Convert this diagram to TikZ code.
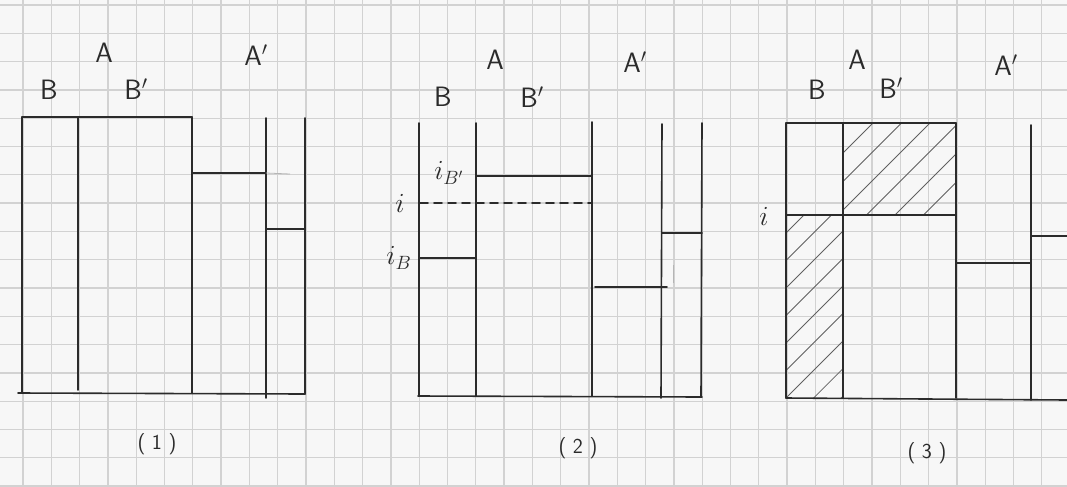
\documentclass[tikz,border=0pt]{standalone}
\usepackage{fontspec}
\definecolor{inkc}{HTML}{2B2B2B}
\definecolor{paper}{HTML}{F7F7F7}
\definecolor{gridc}{HTML}{D2D2D2}
\begin{document}
\begin{tikzpicture}[x=0.75pt,y=-0.75pt,
  ink/.style={line width=1.2pt, draw=inkc, line cap=round},
  faint/.style={line width=0.6pt, draw=inkc!35},
  hatchline/.style={line width=0.55pt, draw=inkc!75},
  gridl/.style={line width=1pt, draw=gridc},
  lbl/.style={text=inkc, font=\sffamily\fontsize{21}{21}\selectfont, inner sep=0pt},
  caplbl/.style={text=inkc, font=\sffamily\fontsize{16}{16}\selectfont, inner sep=0pt},
  ilbl/.style={text=inkc, font=\fontsize{20}{20}\selectfont, inner sep=0pt}]
\useasboundingbox (0,0) rectangle (1067,486);
\fill[paper] (0,0) rectangle (1067,486);
\foreach \k in {0,...,37} \draw[gridl] ({23+28.3*\k},0) -- ({23+28.3*\k},486);
\foreach \k in {0,...,17} \draw[gridl] (0,{5+28.3*\k}) -- (1067,{5+28.3*\k});

% ---------- panel 1 ----------
\draw[ink] (22,117) -- (192,117);
\draw[ink] (22,117) -- (22,393);
\draw[ink] (78,117) -- (78,390);
\draw[ink] (192,117) -- (192,393);
\draw[ink] (266,118) -- (266,398);
\draw[ink] (305,118) -- (305,394);
\draw[ink] (18,393) -- (305,394);
\draw[ink] (192,173) -- (266,173);
\draw[faint] (266,173) -- (290,174);
\draw[ink] (266,229) -- (305,229);
\node[lbl] (a1) at (104,53) {A};
\node[lbl] (ap1) at (256,55) {A$'$};
\node[lbl] (b1) at (49,90) {B};
\node[lbl] (bp1) at (136,89) {B$'$};
\node[caplbl] (c1) at (157,444) {( 1 )};

% ---------- panel 2 ----------
\draw[ink] (419,123) -- (419,396);
\draw[ink] (476,123) -- (476,396);
\draw[ink] (592,122) -- (592,396);
\draw[ink] (662,124) -- (661,398);
\draw[ink] (702,123) -- (701,397);
\draw[ink] (418,396) -- (702,397);
\draw[ink] (476,176) -- (592,176);
\draw[ink,dash pattern=on 6pt off 4.5pt] (420,203) -- (592,203);
\draw[ink] (419,258) -- (476,258);
\draw[ink] (662,233) -- (702,233);
\draw[ink] (595,287) -- (667,287);
\draw[faint] (673,265) -- (673,283);
\node[lbl] (a2) at (495,60) {A};
\node[lbl] (ap2) at (635,62) {A$'$};
\node[lbl] (b2) at (443,97) {B};
\node[lbl] (bp2) at (532,97) {B$'$};
\node[ilbl] (ibp) at (449,173) {$i_{B'}$};
\node[ilbl] (i2) at (400,203) {$i$};
\node[ilbl] (ib) at (399,258) {$i_{B}$};
\node[caplbl] (c2) at (578,448) {( 2 )};

% ---------- panel 3 ----------
\begin{scope}
\clip (843,123) rectangle (956,215);
\foreach \c in {996,1024.5,...,1140} \draw[hatchline] ({\c},0) -- ({\c-400},400);
\end{scope}
\begin{scope}
\clip (786,215) rectangle (843,398);
\foreach \c in {1019,1046.5,...,1240} \draw[hatchline] ({\c-100},100) -- ({\c-500},500);
\end{scope}
\draw[ink] (786,123) -- (956,123);
\draw[ink] (786,123) -- (786,398);
\draw[ink] (843,123) -- (843,398);
\draw[ink] (956,123) -- (956,398);
\draw[ink] (786,215) -- (956,215);
\draw[ink] (1031,125) -- (1031,400);
\draw[ink] (786,398) -- (1067,400);
\draw[ink] (956,263) -- (1031,263);
\draw[ink] (1031,236) -- (1067,236);
\node[lbl] (a3) at (857,60) {A};
\node[lbl] (ap3) at (1006,65) {A$'$};
\node[lbl] (b3) at (817,90) {B};
\node[lbl] (bp3) at (891,88) {B$'$};
\node[ilbl] (i3) at (764,216) {$i$};
\node[caplbl] (c3) at (927,453) {( 3 )};
\end{tikzpicture}
\end{document}
